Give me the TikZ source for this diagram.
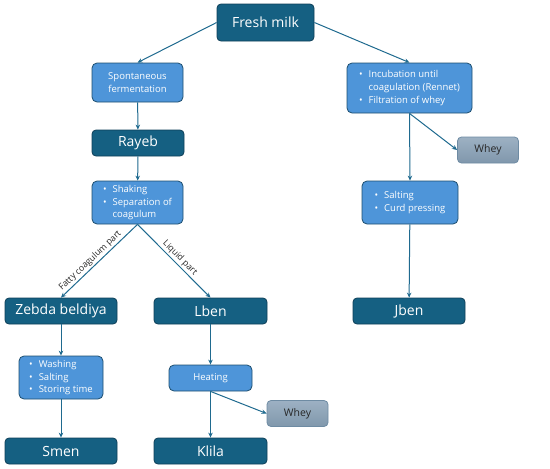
\documentclass[tikz,border=0pt]{standalone}
\usepackage{fontspec}
\setmainfont{Open Sans}
\usetikzlibrary{arrows.meta}

\definecolor{darkteal}{HTML}{156082}
\definecolor{darkedge}{HTML}{0E3F58}
\definecolor{lightblue}{HTML}{4E95D9}
\definecolor{lightedge}{HTML}{1D4E6E}
\definecolor{wheytop}{HTML}{9DB1C3}
\definecolor{wheybot}{HTML}{8097AC}
\definecolor{wheyedge}{HTML}{6E8BA3}
\definecolor{arrowcol}{HTML}{1F6A8F}

\begin{document}
\begin{tikzpicture}[
        x=1pt, y=-1pt,
        product/.style={draw=darkedge, fill=darkteal, rounded corners=4pt, line width=0.8pt,
            text=white, font=\fontsize{14}{16}\selectfont, minimum height=26pt, inner sep=0pt},
        process/.style={draw=lightedge, fill=lightblue, rounded corners=5pt, line width=0.8pt,
            text=white, font=\fontsize{9.5}{12.7}\selectfont, inner sep=0pt, align=center},
        byprod/.style={draw=wheyedge, top color=wheytop, bottom color=wheybot, rounded corners=4pt,
            line width=0.8pt, text=black!85, font=\fontsize{10.5}{12}\selectfont,
            minimum width=61pt, minimum height=26pt, inner sep=0pt},
        flow/.style={draw=arrowcol, line width=1pt, -{Stealth[length=5pt, width=4.5pt]}},
        edgelabel/.style={font=\fontsize{8.8}{10}\selectfont, text=black!85, sloped, inner sep=1.5pt}
    ]

    \useasboundingbox (0,0) rectangle (550,469);

    % Top level
    \node[product, minimum width=97pt, minimum height=37pt] (fresh) at (265.5,22.5) {Fresh milk};

    % Left branch: fermented products
    \node[process, minimum width=91pt, minimum height=39pt] (spont) at (137.5,82.5)
        {Spontaneous\\fermentation};
    \node[product, minimum width=92pt] (rayeb) at (138,143) {Rayeb};
    \node[process, minimum width=91pt, minimum height=43pt] (shake) at (137.5,202.5)
        {\begin{tabular}{@{}l@{\hspace{6pt}}l@{}}
            • & Shaking\\
            • & Separation of\\
              & coagulum
        \end{tabular}};
    \node[product, minimum width=112pt] (zebda) at (61,311) {Zebda beldiya};
    \node[product, minimum width=113pt] (lben) at (210.5,311) {Lben};
    \node[process, minimum width=84pt, minimum height=43pt] (wash) at (61,377.5)
        {\begin{tabular}{@{}l@{\hspace{6pt}}l@{}}
            • & Washing\\
            • & Salting\\
            • & Storing time
        \end{tabular}};
    \node[process, minimum width=83pt, minimum height=26pt] (heat) at (210.5,378) {Heating};
    \node[byprod] (whey2) at (297.5,413.5) {Whey};
    \node[product, minimum width=112pt] (smen) at (61,451) {Smen};
    \node[product, minimum width=113pt] (klila) at (210.5,451) {Klila};

    % Right branch: rennet cheese
    \node[process, minimum width=125pt, minimum height=50pt] (incub) at (409.5,88)
        {\begin{tabular}{@{}l@{\hspace{6pt}}l@{}}
            • & Incubation until\\
              & coagulation (Rennet)\\
            • & Filtration of whey
        \end{tabular}};
    \node[byprod] (whey1) at (488,150) {Whey};
    \node[process, minimum width=96pt, minimum height=43pt] (salt) at (410,202.5)
        {\begin{tabular}{@{}l@{\hspace{6pt}}l@{}}
            • & Salting\\
            • & Curd pressing
        \end{tabular}};
    \node[product, minimum width=112pt] (jben) at (409,311) {Jben};

    % Connectors
    \draw[flow] (fresh.west) -- (spont.north);
    \draw[flow] (fresh.east) -- (incub.north);
    \draw[flow] (spont) -- (rayeb);
    \draw[flow] (rayeb) -- (shake);
    \draw[flow] (shake.south) -- node[edgelabel, above, pos=0.56] {Fatty coagulum part} (zebda.north);
    \draw[flow] (shake.south) -- node[edgelabel, above, pos=0.52] {Liquid part} (lben.north);
    \draw[flow] (zebda) -- (wash);
    \draw[flow] (wash) -- (smen);
    \draw[flow] (lben) -- (heat);
    \draw[flow] (heat) -- (klila);
    \draw[flow] (heat.south) -- (whey2.west);
    \draw[flow] (incub.south) -- (salt.north);
    \draw[flow] (incub.south) -- (whey1.west);
    \draw[flow] (salt) -- (jben);

\end{tikzpicture}
\end{document}
